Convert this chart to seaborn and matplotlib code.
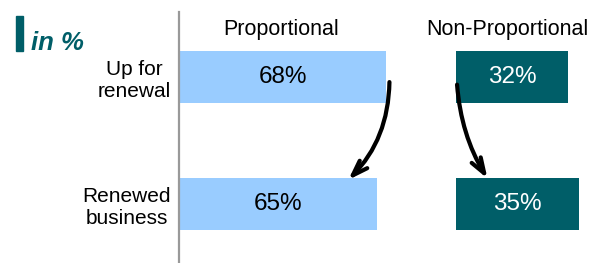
import numpy as np
import pandas as pd
import seaborn as sns
from matplotlib import pyplot as plt
from matplotlib.patches import Rectangle

# data
rows = ['Up for\nrenewal', 'Renewed\nbusiness']
segments = ['Proportional', 'Non-Proportional']
proportional = [68, 65]
non_proportional = [32, 35]

light_blue = '#99ccff'
teal = '#005e68'

df = pd.DataFrame({
    'row': rows * 2,
    'segment': np.repeat(segments, len(rows)),
    'share': proportional + non_proportional,
})

sns.set_style('white')
plt.rcParams['font.family'] = ['Liberation Sans', 'DejaVu Sans']
plt.rcParams['text.color'] = 'black'
plt.rcParams['ytick.color'] = 'black'

W, H = 590, 263
fig = plt.figure(figsize=(W / 100, H / 100), dpi=100)

# axes spanning the whole height, rows 127 px apart
ylim = (1 + 59 / 127, -77 / 127)
ax_p = fig.add_axes([179 / W, 0, 260 / W, 1])
ax_n = fig.add_axes([456 / W, 0, 134 / W, 1])

for ax, seg, col, txtcol, xmax in [(ax_p, 'Proportional', light_blue, 'black', 260 / 3.05),
                                   (ax_n, 'Non-Proportional', teal, 'white', 134 / 3.5)]:
    sub = df[df['segment'] == seg]
    sns.barplot(data=sub, x='share', y='row', orient='h', color=col,
                width=52 / 127, saturation=1, ax=ax, edgecolor='none')
    ax.bar_label(ax.containers[0], labels=[f'{v}%' for v in sub['share']],
                 label_type='center', fontsize=17.5, color=txtcol)
    ax.set_xlim(0, xmax)
    ax.set_ylim(*ylim)
    ax.set_xlabel('')
    ax.set_ylabel('')
    ax.set_xticks([])
    ax.patch.set_visible(False)
    for s in ax.spines.values():
        s.set_visible(False)

# row labels and left rule
ax_p.set_yticks(range(len(rows)))
ax_p.set_yticklabels(rows, fontsize=15, multialignment='center')
ax_p.tick_params(axis='y', length=0, pad=6)
ax_n.set_yticks([])
ax_p.spines['left'].set_visible(True)
ax_p.spines['left'].set_color('#999999')
ax_p.spines['left'].set_linewidth(1.6)
ax_p.spines['left'].set_bounds(ylim[0], ylim[1] + 12 / 127)

# panel headings
fig.text(281 / W, 1 - 30 / H, segments[0], fontsize=15.5, ha='center', va='center')
fig.text(507 / W, 1 - 30 / H, segments[1], fontsize=15.5, ha='center', va='center')

# "in %" marker
fig.patches.append(Rectangle((16 / W, 1 - 51 / H), 7 / W, 35 / H,
                             transform=fig.transFigure, color=teal))
fig.text(31 / W, 1 - 43 / H, 'in %', fontsize=18.5, fontweight='bold',
         fontstyle='italic', color=teal, ha='left', va='center')

# hand-drawn style arrows from top bar to bottom bar
arrow = dict(arrowstyle='->,head_length=1.1,head_width=0.38', color='black',
             lw=3, shrinkA=0, shrinkB=0)
ax_p.annotate('', xy=(proportional[1] - 9.5, 1 - 0.19), xytext=(proportional[0] + 1, 0.04),
              arrowprops=dict(arrow, connectionstyle='arc3,rad=-0.2'))
ax_n.annotate('', xy=(9, 1 - 0.2), xytext=(0.3, 0.06),
              arrowprops=dict(arrow, connectionstyle='arc3,rad=0.12'))

plt.savefig('out.png', dpi=100)
